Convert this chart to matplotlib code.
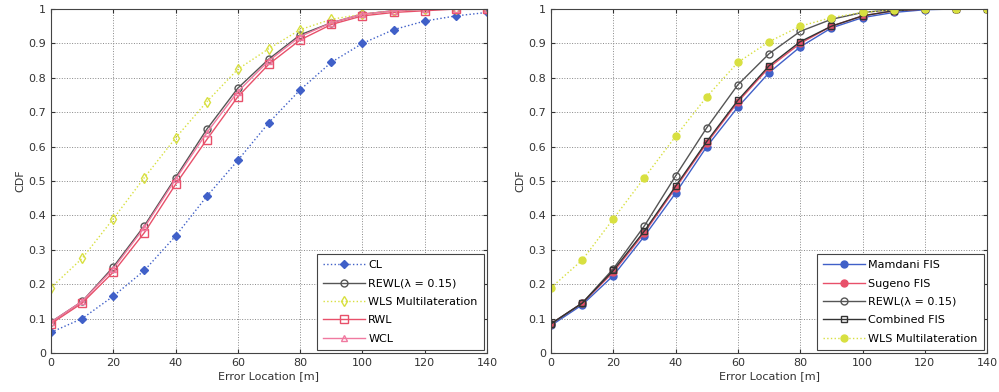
import matplotlib
matplotlib.use("Agg")
import matplotlib.pyplot as plt
import numpy as np

x = [0, 10, 20, 30, 40, 50, 60, 70, 80, 90, 100, 110, 120, 130, 140]

# Left panel
cl   = [0.06, 0.10, 0.165, 0.24, 0.34, 0.455, 0.56, 0.67, 0.765, 0.845, 0.90, 0.94, 0.965, 0.98, 0.99]
rewl = [0.09, 0.15, 0.25, 0.37, 0.51, 0.65, 0.77, 0.855, 0.925, 0.96, 0.985, 0.995, 1.0, 1.0, 1.0]
wls  = [0.19, 0.275, 0.39, 0.51, 0.625, 0.73, 0.825, 0.885, 0.94, 0.97, 0.985, 0.995, 1.0, 1.0, 1.0]
rwl  = [0.085, 0.145, 0.235, 0.35, 0.49, 0.62, 0.745, 0.84, 0.91, 0.955, 0.98, 0.99, 0.995, 1.0, 1.0]
wcl  = [0.09, 0.15, 0.245, 0.365, 0.505, 0.64, 0.76, 0.85, 0.92, 0.96, 0.985, 0.995, 1.0, 1.0, 1.0]

# Right panel
mamdani  = [0.08, 0.14, 0.225, 0.34, 0.465, 0.60, 0.715, 0.815, 0.89, 0.945, 0.975, 0.99, 0.998, 1.0, 1.0]
sugeno   = [0.085, 0.145, 0.235, 0.35, 0.48, 0.61, 0.73, 0.83, 0.90, 0.95, 0.98, 0.995, 1.0, 1.0, 1.0]
rewl2    = [0.085, 0.145, 0.245, 0.37, 0.515, 0.655, 0.78, 0.87, 0.935, 0.97, 0.99, 0.998, 1.0, 1.0, 1.0]
combined = [0.085, 0.145, 0.24, 0.355, 0.485, 0.615, 0.735, 0.835, 0.905, 0.95, 0.98, 0.995, 1.0, 1.0, 1.0]
wls2     = [0.19, 0.27, 0.39, 0.51, 0.63, 0.745, 0.845, 0.905, 0.95, 0.975, 0.99, 0.998, 1.0, 1.0, 1.0]

xticks = [0, 20, 40, 60, 80, 100, 120, 140]
yticks = [0, 0.1, 0.2, 0.3, 0.4, 0.5, 0.6, 0.7, 0.8, 0.9, 1]
yticklabels = ["0", "0.1", "0.2", "0.3", "0.4", "0.5", "0.6", "0.7", "0.8", "0.9", "1"]

plt.rcParams['font.family'] = ['DejaVu Sans']
fig = plt.figure(figsize=(9.99, 3.92), dpi=100)
axL = fig.add_axes([0.051, 0.0995, 0.4365, 0.8775])
axR = fig.add_axes([0.5516, 0.0995, 0.4365, 0.8775])

blue = '#4060c8'
grey = '#555555'
ygreen = '#d8e040'
red = '#e8506a'
pink = '#f07aa0'

ms = 5
axL.plot(x, cl, ':', color=blue, marker='D', ms=4, mfc=blue, mec=blue, lw=1, label='CL')
axL.plot(x, rewl, '-', color=grey, marker='o', ms=ms, mfc='none', mec=grey, lw=1, label='REWL(λ = 0.15)')
axL.plot(x, wls, ':', color=ygreen, marker='d', ms=ms, mfc='none', mec=ygreen, lw=1, label='WLS Multilateration')
axL.plot(x, rwl, '-', color=red, marker='s', ms=ms + 1, mfc='none', mec=red, lw=1, label='RWL')
axL.plot(x, wcl, '-', color=pink, marker='^', ms=ms, mfc='none', mec=pink, lw=1, label='WCL')

axR.plot(x, mamdani, '-', color=blue, marker='o', ms=ms, mfc=blue, mec=blue, lw=1, label='Mamdani FIS')
axR.plot(x, sugeno, '-', color=red, marker='o', ms=ms, mfc=red, mec=red, lw=1, label='Sugeno FIS')
axR.plot(x, rewl2, '-', color=grey, marker='o', ms=ms, mfc='none', mec=grey, lw=1, label='REWL(λ = 0.15)')
axR.plot(x, combined, '-', color='#333333', marker='s', ms=ms, mfc='none', mec='#333333', lw=1, label='Combined FIS')
axR.plot(x, wls2, ':', color=ygreen, marker='o', ms=ms, mfc=ygreen, mec=ygreen, lw=1, label='WLS Multilateration')

for ax in (axL, axR):
    ax.set_xlim(0, 140)
    ax.set_ylim(0, 1)
    ax.set_xticks(xticks)
    ax.set_yticks(yticks)
    ax.set_yticklabels(yticklabels)
    ax.tick_params(direction='in', labelsize=8, length=3, colors='#333333', top=True, right=True)
    ax.grid(True, linestyle=':', color='#888888', lw=0.7)
    ax.set_xlabel('Error Location [m]', fontsize=8, color='#333333', labelpad=2)
    ax.set_ylabel('CDF', fontsize=8, color='#333333', labelpad=2)
    for s in ax.spines.values():
        s.set_color('#444444')
        s.set_linewidth(0.8)
    leg = ax.legend(loc='lower right', fontsize=8, fancybox=False, framealpha=1,
                    edgecolor='#444444', handlelength=3.8, borderpad=0.55, labelspacing=0.75,
                    borderaxespad=0.3, handletextpad=0.3)
    leg.get_frame().set_linewidth(0.8)

fig.savefig('out.png', dpi=100)
